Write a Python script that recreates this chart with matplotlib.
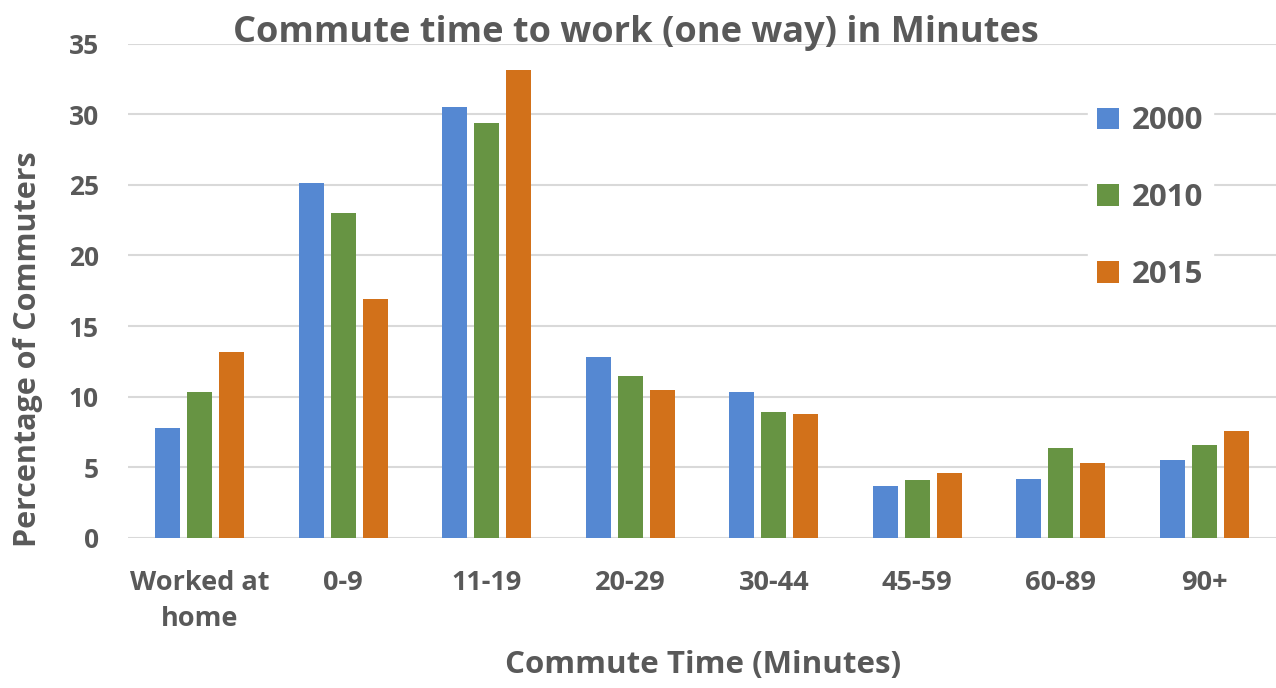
import numpy as np
import matplotlib
matplotlib.use('Agg')
import matplotlib.pyplot as plt

categories = ['Worked at\nhome', '0-9', '11-19', '20-29', '30-44', '45-59', '60-89', '90+']
years = ['2000', '2010', '2015']
v2000 = [7.8, 25.1, 30.5, 12.8, 10.3, 3.7, 4.2, 5.5]
v2010 = [10.3, 23.0, 29.4, 11.5, 8.9, 4.1, 6.4, 6.6]
v2015 = [13.2, 16.9, 33.1, 10.5, 8.8, 4.6, 5.3, 7.6]
yticks = [0, 5, 10, 15, 20, 25, 30, 35]

colors = ['#5588d2', '#679443', '#d2711a']
txt = '#595959'
plt.rcParams['font.family'] = ['Open Sans', 'DejaVu Sans']
plt.rcParams['font.weight'] = 'bold'

fig = plt.figure(figsize=(12.76, 6.88), dpi=100)
ax = fig.add_axes([128/1276, 1-538/688, 1-128/1276, (538-43.5)/688])

x = np.arange(len(categories))
w = 0.174
off = 0.223
for i, (vals, c, lab) in enumerate(zip([v2000, v2010, v2015], colors, years)):
    ax.bar(x + (i-1)*off, vals, width=w, color=c, label=lab, zorder=3)

ax.set_xlim(-0.5, len(categories)-0.5)
ax.set_ylim(0, 35)
ax.set_yticks(yticks)
ax.yaxis.grid(True, color='#d9d9d9', linewidth=1.5, zorder=0)
for s in ax.spines.values():
    s.set_visible(False)
ax.tick_params(length=0)
ax.tick_params(axis='y', pad=21, labelsize=19, labelcolor=txt)
ax.tick_params(axis='x', pad=23, labelsize=19.5, labelcolor=txt)
ax.set_xticks(x)
ax.set_xticklabels(categories, linespacing=1.5)

fig.text(0.498, 0.952, 'Commute time to work (one way) in Minutes', ha='center', va='center',
         fontsize=26, fontweight='bold', color=txt)
fig.text(0.551, 0.033, 'Commute Time (Minutes)', ha='center', va='center',
         fontsize=22.5, fontweight='bold', color=txt)
fig.text(0.022, 0.492, 'Percentage of Commuters', ha='center', va='center', rotation=90,
         fontsize=22, fontweight='bold', color=txt)

leg = ax.legend(loc='upper left', bbox_to_anchor=((1088-128)/1148, 1-(97-43.5)/494.5), bbox_transform=ax.transAxes,
                frameon=True, fontsize=22.5, labelspacing=1.5, handlelength=0.7, handleheight=0.7,
                handletextpad=0.4, borderpad=0.3, borderaxespad=0)
leg.get_frame().set_edgecolor('white')
leg.get_frame().set_facecolor('white')
leg.get_frame().set_alpha(1)
for t in leg.get_texts():
    t.set_color(txt)

fig.savefig('out.png', dpi=100)
